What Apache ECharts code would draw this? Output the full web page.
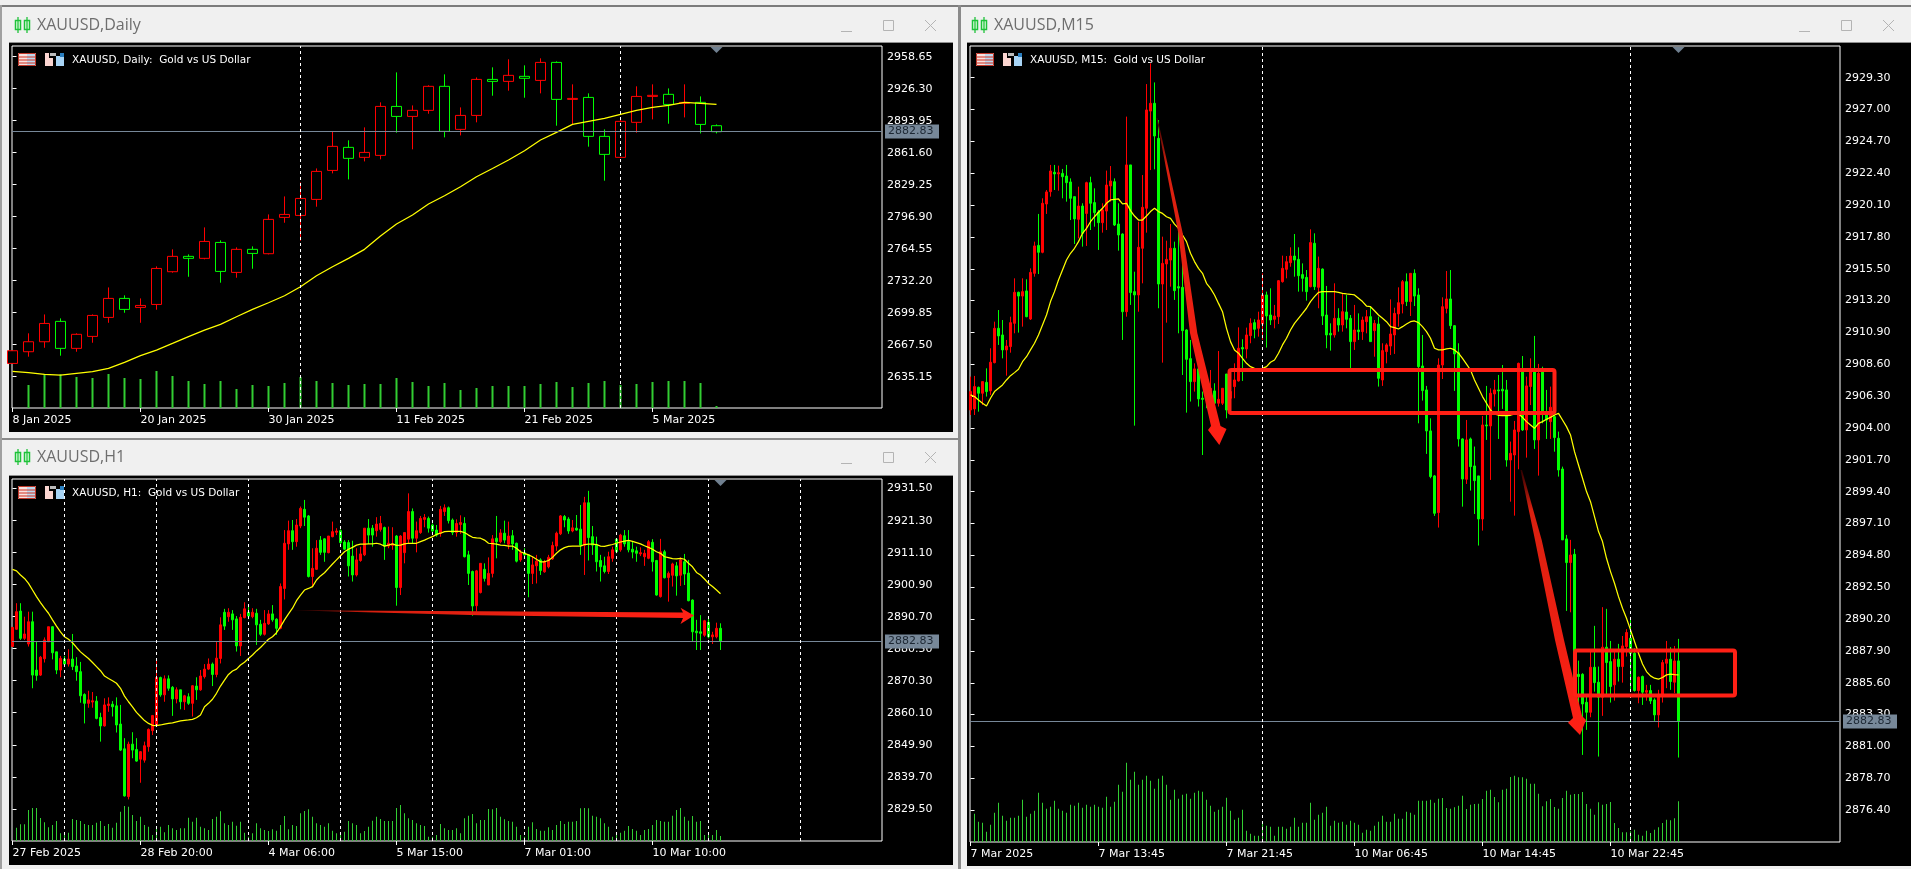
<!DOCTYPE html>
<html><head><meta charset="utf-8"><style>html,body{margin:0;padding:0;background:#f0f0f0}#c{width:1911px;height:869px}</style>
<script src="https://cdn.jsdelivr.net/npm/echarts@6/dist/echarts.min.js"></script></head><body><div id="c"></div>
<script>
// rows are [open, close, low, high]
const dailyCandles=[[2648.6,2661.4,2648.6,2661.4],[2660.4,2670.5,2655.4,2679],[2670.5,2689,2664.4,2698.1],[2691.1,2663.8,2656.4,2694.1],[2663.8,2678,2660.4,2679],[2675.9,2697.1,2669.5,2698.1],[2695.1,2714.3,2689.7,2725.4],[2714.3,2703.2,2699.8,2717.4],[2705.2,2707.2,2689.7,2714.3],[2708.2,2744.6,2702.9,2746.7],[2741.3,2756.8,2740.3,2763.9],[2756.8,2754.8,2736.2,2758.8],[2754.8,2771.9,2753.8,2786.1],[2770.9,2741.6,2730.2,2773],[2740.6,2763.9,2735.2,2765.9],[2763.9,2759.8,2744.3,2766.9],[2759.5,2794.2,2758.8,2799.2],[2796.2,2799.2,2790.8,2817.4],[2798.2,2815.4,2772.6,2831.6],[2814.4,2842.7,2807,2845.7],[2843.7,2868,2840.7,2883.2],[2867,2855.9,2834.6,2874.1],[2856.9,2861.9,2852.8,2887.2],[2858.9,2908.4,2854.9,2912.5],[2908.4,2898.3,2881.8,2942.8],[2898.3,2904.4,2865,2909.4],[2904.4,2928.7,2901,2929.7],[2928.7,2883.2,2877.1,2940.8],[2885.2,2899.3,2879.1,2907.4],[2899.3,2935.7,2892.3,2937.7],[2935.7,2933.7,2919.2,2947.9],[2933.7,2939.8,2924.3,2956],[2938.8,2936.8,2917.2,2949.9],[2934.7,2952.9,2921.6,2957],[2952.9,2915.5,2888.9,2953.9],[2915.5,2916.5,2890.2,2930.7],[2917.5,2878.1,2867.7,2921.6],[2878.1,2859.9,2833.3,2885.2],[2856.9,2893.3,2856.9,2896.3],[2892.3,2918.5,2881.8,2928.7],[2918.5,2919.6,2895.3,2930.7],[2920.6,2910.4,2890.9,2926.6],[2911.5,2912.5,2897.3,2930.7],[2912.5,2890.2,2881.1,2918.5],[2888.9,2882.83,2881.1,2890.2]];
const dailyMA=[2640.5,2639.2,2637.5,2636.8,2638.5,2640.2,2643.5,2649.6,2656.4,2662.1,2668.8,2675.6,2682.3,2688,2695.8,2703.2,2709.9,2717,2726.1,2737.2,2746.3,2754.8,2763.9,2777.3,2789.5,2798.6,2809.7,2818.1,2827.2,2837.3,2845.7,2854.2,2863.6,2874.4,2882.2,2890.2,2893.3,2896.3,2900.3,2904.4,2907.4,2909.4,2912.5,2911.5,2910.4];
const dailyVol=[0,69,99,101,93,90,102,90,87,111,96,81,72,81,57,69,66,75,93,81,75,69,72,72,90,78,66,75,54,60,66,66,66,72,78,63,75,81,69,72,78,81,81,75,6];
const dailyTicks=[0,8,16,24,32,40];
const dailyTickLabels=['8 Jan 2025','20 Jan 2025','30 Jan 2025','11 Feb 2025','21 Feb 2025','5 Mar 2025'];
const dailySeparators=[18,38];
const dailyPrices=[2958.65,2926.30,2893.95,2861.60,2829.25,2796.90,2764.55,2732.20,2699.85,2667.50,2635.15];

const h1Candles=[[2881.2,2887.3,2881.2,2887.3],[2886.7,2892.3,2886.5,2895],[2892.5,2883.8,2883.3,2895],[2883.8,2885.2,2883.3,2890.7],[2882,2889.1,2881.2,2892.3],[2889.1,2872.1,2867.9,2892.3],[2873.7,2872,2870.3,2882.7],[2872.1,2877.8,2871.8,2878.2],[2877.3,2883.3,2876.1,2884.1],[2882.7,2887.5,2882.7,2887.5],[2887.5,2879.2,2877.1,2887.7],[2879.5,2873.7,2872.4,2879.5],[2873.7,2877.4,2871.4,2878.2],[2877.2,2875.6,2874.8,2878.2],[2875.6,2877.2,2874.8,2880.3],[2877.2,2874.8,2873.7,2885.2],[2875,2873.2,2870.3,2877.8],[2873.2,2865.5,2863.3,2876.3],[2865.9,2863.1,2856.7,2866.3],[2863.1,2864.2,2861.7,2867.1],[2863.5,2863.9,2861.7,2866.7],[2863.8,2858.3,2858,2865.4],[2858.6,2855.9,2850.9,2860.1],[2855.9,2862.6,2855.7,2864.7],[2862.4,2862.9,2860.4,2865],[2862.8,2862,2858.9,2863.8],[2862.3,2856.2,2853.8,2865],[2856.5,2848.2,2847.9,2862.6],[2848.6,2833.6,2833.4,2852],[2833.4,2850.1,2832.5,2850.9],[2850.1,2848.2,2845.6,2853.9],[2848.4,2844.7,2844.5,2852],[2845.3,2847.7,2837.8,2847.9],[2845,2849.6,2844.2,2850.9],[2849.3,2854.8,2847.7,2855.1],[2854.4,2859.2,2853,2859.4],[2856.2,2871.3,2855.9,2876.9],[2871.3,2865.8,2865.2,2871.6],[2865.8,2870.9,2863.6,2872],[2870.9,2867.9,2867.1,2872],[2868.2,2864.5,2859.1,2868.6],[2864.5,2867.4,2863.1,2868.2],[2867.4,2863.6,2861.2,2867.4],[2863.6,2865.5,2861,2865.8],[2865.2,2863.1,2862.6,2866.3],[2863.1,2868.7,2858.9,2868.9],[2868.6,2867.4,2864.2,2871.4],[2867.4,2871.8,2867.1,2873.7],[2871.6,2874,2871,2875.6],[2874,2875.6,2873.7,2877.4],[2875.6,2872.3,2868.6,2876.1],[2872.3,2877.5,2871.4,2882.7],[2877.4,2888.1,2875.8,2890.5],[2892.1,2887.7,2886.5,2893.2],[2890.7,2892.1,2889.1,2893.4],[2891.6,2889.7,2886.5,2892.8],[2890,2881.4,2879.6,2890.9],[2881.4,2890.5,2878.2,2891.6],[2890.4,2893.2,2890.2,2895.3],[2892.1,2890.9,2889.9,2894.2],[2890.7,2892.1,2890.2,2893.4],[2891.8,2888.1,2881.7,2893.2],[2888.3,2885.1,2884.6,2889.7],[2885.1,2888.6,2884.7,2892.8],[2888.4,2891.6,2888.1,2892.8],[2891.6,2889.7,2889.1,2894.4],[2889.9,2887,2884.9,2890.2],[2887,2900.3,2886.7,2901.3],[2899.7,2914.1,2896.2,2918.3],[2913.9,2918.1,2912,2921.3],[2918.1,2914.6,2912,2921.5],[2914.6,2919.9,2913,2921.8],[2919.6,2925.2,2918.9,2925.8],[2924.9,2922.4,2919.6,2927.9],[2922.8,2903.5,2903.2,2923.1],[2903.5,2906.1,2900.1,2912.5],[2905.8,2912.5,2905.6,2915.1],[2915.1,2911.2,2910.4,2916.4],[2915.5,2911.2,2908.2,2915.7],[2911.1,2916.4,2910.9,2916.4],[2916.2,2917.8,2916,2921],[2917.6,2918,2916.7,2918.9],[2918.1,2914.3,2913.9,2918.5],[2914.5,2912.2,2912,2915.1],[2914.3,2906.9,2903.5,2915.1],[2910,2904,2901.9,2914.9],[2904,2908.8,2903.5,2912.5],[2908.6,2910.7,2908.2,2913],[2910.4,2918.9,2910,2918.9],[2918.9,2916.7,2913.9,2921.8],[2918.9,2916.7,2913,2919.9],[2918.1,2920.2,2916.2,2922.4],[2918.5,2920.4,2917.8,2922.8],[2919.1,2913.2,2908.8,2919.4],[2913.2,2914.1,2912.5,2919.4],[2913.4,2913.9,2912,2919.2],[2916.4,2900,2894.2,2916.7],[2900,2916.4,2897.6,2916.7],[2911.1,2917.5,2907.7,2917.5],[2915.4,2924.2,2914.1,2930],[2924.2,2915.7,2913.9,2925.2],[2915.7,2918.1,2911.2,2921],[2917.5,2922,2917.1,2922.8],[2921.7,2922.3,2919.2,2923.4],[2922,2918.9,2917.5,2922.6],[2919.9,2918,2917.1,2920.4],[2918.3,2916.7,2916.2,2919.9],[2917.3,2924.9,2916.2,2926],[2924.2,2925.4,2922.8,2926.5],[2925.4,2921.3,2920.4,2925.8],[2921.5,2917.5,2916.7,2922],[2917.5,2920.4,2916.2,2921.7],[2920.1,2920.7,2917.1,2923],[2920.4,2909.8,2909.6,2922.4],[2910.4,2904.5,2900.8,2911.7],[2905.1,2894.1,2891,2905.4],[2894.2,2905.3,2892.3,2905.6],[2898.4,2907.7,2898.1,2907.7],[2905.8,2902.9,2901.9,2907.7],[2900.8,2904.5,2900.8,2909.6],[2904.5,2915.5,2903.2,2916.7],[2915.7,2914.6,2909.3,2922.8],[2914.6,2917.4,2914.1,2918.6],[2917.3,2915.1,2914.1,2921.3],[2913.8,2916.4,2912.2,2921],[2916.5,2913.9,2912,2918.3],[2914.1,2908.4,2908,2914.3],[2908.8,2911.1,2908.2,2912],[2911.1,2910.4,2909.8,2912.5],[2910.4,2904.5,2896.9,2910.4],[2904.5,2907.2,2901.1,2909.8],[2906.9,2908.4,2901.3,2910.4],[2908.8,2905.4,2904,2909.3],[2905,2908.2,2904.7,2908.8],[2906.6,2909.6,2906.1,2910.4],[2909.1,2913.4,2908.8,2914.6],[2913.2,2917.3,2911.7,2917.8],[2917.1,2922.8,2916.7,2923.1],[2922.6,2921.5,2919.2,2923.1],[2921.8,2918,2917.1,2922.4],[2918,2919,2917.6,2921.5],[2918.9,2918.3,2918.1,2923.1],[2918.6,2913.5,2910.4,2926.3],[2913.5,2927,2904,2928.9],[2927,2915.9,2908.6,2930.8],[2916.2,2913.5,2910.4,2919.6],[2913.7,2908.2,2905.1,2916.2],[2908.6,2906.6,2901.9,2910.4],[2906.9,2905.1,2904.5,2909.8],[2905.1,2909.8,2904.3,2911.4],[2909.3,2912,2908.2,2913],[2915.4,2911.4,2910.9,2915.4],[2912,2916.7,2911.4,2917.1],[2916.5,2913.9,2913,2918.3],[2914.6,2912,2911.2,2918.3],[2912.2,2911.3,2909.3,2914.6],[2911.7,2910.9,2908.2,2913],[2910.7,2911.1,2910,2912.8],[2909.8,2910.9,2906.9,2912],[2909.3,2914.6,2909,2915.1],[2914.4,2908.2,2905.1,2915.4],[2908.6,2897.6,2897.4,2908.8],[2897.1,2911.4,2896.8,2915.5],[2911.4,2903.1,2902.9,2912],[2903.2,2904.5,2895.5,2905.1],[2903.9,2907.5,2900.3,2907.9],[2906.9,2903.7,2897.4,2908.1],[2903.9,2908.8,2900.5,2909.6],[2908.2,2904.3,2900.8,2910.7],[2904.6,2895.8,2895.6,2908.8],[2896,2885.9,2882.7,2896.2],[2886.1,2885.6,2880.1,2889.7],[2885.9,2885.4,2880.1,2891.2],[2884.8,2889.4,2884.3,2889.7],[2888.9,2884.3,2883.8,2890.5],[2884.3,2884.9,2882,2885.9],[2884.3,2887,2883.8,2888.8],[2887,2882.83,2880.1,2888.6]];
const h1MA=[2905.8,2905.3,2904,2902.9,2901.3,2899.2,2897.1,2895.2,2893.4,2891.8,2889.7,2887.7,2885.9,2884.3,2883.5,2882.4,2880.9,2879.5,2878.4,2877.4,2876.1,2874.8,2873.5,2871.8,2871,2870.3,2869.5,2867.9,2865.4,2863.6,2862,2860.2,2858.9,2857.6,2856.7,2856.1,2856,2856.2,2856.5,2856.7,2856.9,2857.2,2857.5,2857.7,2857.8,2858,2858.5,2859.4,2862,2863.1,2864.4,2866.3,2868.6,2870.5,2872.3,2873.4,2874,2875.3,2876.2,2877.4,2878.5,2879.8,2880.9,2882.2,2883.5,2884.3,2885.6,2887.5,2889.7,2891.6,2893.4,2895.8,2897.6,2899.2,2899.7,2900.3,2902.4,2903.7,2904.7,2906.1,2907.5,2908.8,2910.1,2911.4,2912.2,2912.8,2913.5,2913.8,2913.8,2913.9,2913.9,2914.1,2913.8,2913.2,2913.5,2913.9,2913.4,2913.5,2913.9,2914.1,2914.1,2914.1,2914.6,2915.1,2915.7,2916.2,2916.9,2917.3,2917.8,2917.9,2917.9,2917.9,2917.9,2917.5,2916.7,2916,2915.8,2915.7,2915.1,2914.1,2914,2913.8,2913.5,2913.4,2913.2,2913.2,2912.5,2911.4,2910.9,2910.4,2909.8,2909,2908.2,2908.2,2908.6,2909.6,2910.9,2912,2912.7,2913.1,2913.2,2913.2,2913.2,2913.7,2913.8,2913.8,2913.7,2913.2,2913.1,2913.4,2913.7,2914.1,2914.5,2914.8,2915,2914.7,2914.3,2913.9,2913.3,2912.8,2912.2,2911.4,2910.9,2909.8,2909.5,2909.2,2909.1,2909.3,2909,2907.7,2906.6,2904.8,2904,2902.7,2901.3,2900.3,2899.2,2898];
const h1Vol=[0,40,50,50,93,99,99,69,56,41,48,60,23,18,25,66,63,60,51,48,48,55,60,45,51,40,55,88,105,103,78,60,73,48,43,18,40,43,26,48,38,33,38,38,70,58,70,43,38,33,66,73,89,53,48,58,46,58,25,13,23,53,38,33,30,35,31,48,75,35,48,45,83,90,95,73,53,48,43,53,31,23,23,28,60,53,48,23,30,43,61,73,66,60,60,60,99,108,83,68,63,53,48,45,13,13,18,51,38,33,33,38,23,68,76,81,53,63,63,96,95,99,73,65,60,58,43,18,13,43,56,36,31,31,41,33,48,60,51,58,58,60,98,99,98,76,73,68,53,43,13,23,25,31,45,36,31,18,33,36,48,63,60,58,58,76,93,99,73,61,75,58,60,18,21,18,33,15];
const h1Ticks=[0,32,64,96,128,160];
const h1TickLabels=['27 Feb 2025','28 Feb 20:00','4 Mar 06:00','5 Mar 15:00','7 Mar 01:00','10 Mar 10:00'];
const h1Separators=[13,36,59,82,105,128,151,174,197];
const h1Prices=[2931.50,2921.30,2911.10,2900.90,2890.70,2880.50,2870.30,2860.10,2849.90,2839.70,2829.50];

const m15Candles=[[2905.30,2906.63,2904.94,2907.71],[2905.38,2906.99,2904.94,2907.76],[2906.94,2906.51,2905.18,2906.99],[2906.51,2907.35,2905.66,2907.35],[2907.30,2906.63,2906.27,2908.31],[2906.68,2908.75,2906.39,2909.76],[2908.72,2911.20,2908.67,2911.68],[2911.20,2910.65,2910.0,2912.52],[2910.72,2909.64,2909.03,2911.80],[2909.64,2909.92,2907.78,2910.36],[2909.88,2911.61,2909.44,2912.04],[2911.56,2913.80,2910.84,2914.81],[2913.80,2913.53,2910.89,2913.85],[2913.53,2913.85,2911.32,2914.81],[2913.90,2912.04,2912.0,2914.74],[2911.87,2915.24,2911.80,2915.53],[2915.17,2917.15,2914.93,2917.46],[2917.19,2916.69,2915.12,2919.46],[2916.69,2920.23,2916.62,2920.59],[2920.18,2921.05,2919.46,2921.19],[2921.07,2922.56,2920.71,2923.0],[2922.47,2922.35,2921.19,2923.0],[2922.35,2922.44,2921.14,2922.95],[2922.39,2922.15,2920.59,2922.71],[2922.20,2921.72,2920.35,2923.0],[2921.77,2920.59,2919.02,2922.03],[2920.71,2919.10,2917.29,2920.71],[2919.07,2920.03,2917.70,2921.43],[2920.03,2918.06,2917.10,2920.23],[2919.50,2921.72,2917.15,2921.79],[2921.72,2920.23,2918.30,2922.15],[2920.28,2919.55,2918.54,2921.31],[2919.60,2918.83,2916.86,2919.75],[2918.83,2919.75,2918.11,2920.23],[2919.67,2921.55,2918.30,2922.59],[2921.48,2921.84,2920.35,2922.92],[2921.79,2918.66,2918.59,2922.03],[2918.73,2917.94,2916.81,2920.23],[2918.01,2912.40,2910.36,2918.06],[2912.40,2923.0,2912.04,2926.49],[2923.0,2913.78,2912.89,2923.0],[2913.85,2913.61,2904.17,2915.29],[2913.61,2917.05,2912.40,2918.90],[2916.98,2919.94,2914.45,2922.27],[2919.87,2926.97,2918.11,2928.84],[2926.89,2927.45,2922.63,2930.34],[2927.45,2925.09,2922.68,2928.96],[2924.92,2914.40,2912.65,2926.24],[2914.40,2915.89,2908.72,2917.82],[2915.85,2916.18,2911.61,2917.53],[2916.13,2916.98,2914.21,2918.73],[2916.98,2913.92,2913.25,2917.46],[2914.21,2914.11,2910.84,2919.26],[2914.16,2911.03,2907.83,2917.46],[2911.08,2908.96,2905.11,2911.13],[2909.01,2907.35,2905.91,2910.36],[2907.35,2908.27,2906.63,2908.67],[2908.27,2906.10,2905.55,2908.79],[2906.15,2906.07,2902.05,2906.63],[2906.27,2906.07,2905.43,2907.47],[2906.03,2906.87,2904.82,2908.19],[2906.68,2905.79,2904.82,2907.23],[2905.79,2906.07,2905.55,2909.56],[2905.79,2906.87,2905.66,2906.87],[2907.90,2905.30,2904.70,2907.90],[2906.15,2906.63,2904.94,2907.23],[2906.99,2907.47,2906.15,2908.67],[2907.40,2909.76,2907.35,2911.27],[2909.81,2909.71,2907.40,2910.41],[2909.71,2910.72,2909.03,2911.25],[2910.67,2911.56,2910.12,2911.92],[2911.61,2911.13,2910.48,2911.85],[2911.20,2911.80,2910.60,2912.40],[2911.51,2913.61,2910.36,2915.17],[2913.61,2912.09,2909.81,2913.85],[2912.16,2911.80,2911.44,2914.09],[2911.85,2912.09,2911.20,2912.89],[2912.04,2914.64,2911.51,2914.69],[2914.57,2915.53,2914.50,2916.45],[2915.46,2916.01,2914.81,2916.42],[2915.94,2916.42,2915.65,2917.05],[2916.42,2916.13,2914.93,2918.01],[2916.18,2915.0,2913.85,2917.05],[2915.08,2914.81,2913.85,2915.89],[2914.88,2913.85,2913.20,2915.41],[2914.21,2917.39,2914.16,2918.35],[2917.34,2914.21,2913.97,2918.06],[2914.16,2915.53,2912.65,2916.38],[2915.48,2912.09,2911.44,2915.53],[2912.16,2910.72,2909.76,2914.26],[2910.84,2910.72,2909.59,2911.56],[2910.72,2911.92,2910.53,2914.45],[2911.92,2911.44,2910.96,2912.65],[2911.44,2912.40,2910.96,2913.73],[2912.38,2911.85,2911.20,2913.61],[2911.92,2910.24,2908.19,2912.16],[2910.24,2911.08,2909.64,2912.89],[2911.08,2910.96,2910.36,2912.28],[2910.96,2911.80,2910.36,2912.04],[2911.68,2912.04,2910.84,2912.52],[2912.04,2910.24,2910.24,2912.76],[2911.03,2911.56,2909.15,2911.80],[2911.51,2907.59,2906.99,2912.04],[2907.47,2909.59,2907.04,2910.12],[2909.52,2910.0,2908.67,2910.12],[2909.92,2910.79,2909.27,2913.29],[2910.72,2912.28,2909.35,2912.69],[2912.24,2913.05,2911.32,2914.16],[2912.96,2914.57,2912.28,2914.69],[2914.57,2913.13,2912.81,2915.17],[2913.13,2915.17,2912.09,2915.17],[2915.17,2913.53,2912.81,2915.46],[2913.61,2908.43,2904.34,2914.09],[2908.48,2906.70,2905.98,2910.72],[2906.75,2903.79,2902.13,2907.04],[2903.79,2900.49,2900.37,2904.70],[2900.54,2897.84,2897.65,2900.61],[2897.89,2908.55,2896.81,2909.03],[2908.55,2912.76,2907.54,2913.44],[2912.64,2913.32,2912.28,2915.34],[2913.32,2911.39,2911.15,2915.41],[2911.39,2909.35,2906.68,2911.44],[2909.44,2903.21,2902.66,2910.12],[2903.21,2900.32,2898.32,2903.26],[2900.30,2903.14,2899.96,2904.58],[2903.21,2901.21,2899.48,2903.31],[2901.26,2900.20,2897.79,2902.66],[2900.54,2897.43,2895.51,2900.54],[2897.43,2904.22,2896.59,2904.87],[2904.22,2904.15,2903.14,2907.04],[2904.15,2906.51,2900.25,2906.87],[2906.46,2906.75,2905.55,2907.47],[2906.75,2906.68,2903.21,2907.83],[2906.80,2906.68,2905.38,2908.55],[2906.75,2901.69,2901.21,2907.47],[2901.69,2902.17,2898.68,2903.02],[2902.05,2903.86,2897.67,2904.51],[2903.74,2908.67,2901.02,2908.72],[2908.07,2903.86,2903.79,2909.20],[2903.86,2907.04,2901.86,2907.71],[2907.0,2908.07,2905.66,2909.03],[2908.19,2903.14,2902.49,2910.65],[2903.14,2907.95,2900.56,2908.63],[2908.07,2905.18,2904.34,2908.43],[2905.06,2904.58,2903.21,2906.75],[2904.46,2905.50,2903.21,2906.99],[2904.82,2903.31,2902.29,2905.06],[2903.26,2900.97,2900.49,2903.74],[2901.04,2895.92,2895.92,2901.21],[2895.99,2894.28,2890.79,2896.28],[2894.28,2894.83,2890.69,2895.92],[2894.88,2886.17,2886.17,2895.27],[2886.21,2886.05,2882.80,2887.20],[2886.21,2884.07,2880.39,2886.29],[2884.19,2883.47,2882.20,2884.60],[2883.47,2886.72,2883.11,2887.85],[2886.72,2885.61,2884.96,2889.71],[2885.64,2884.56,2880.27,2886.77],[2884.56,2888.17,2883.21,2891.06],[2888.17,2887.06,2884.60,2890.94],[2887.13,2885.33,2884.17,2888.62],[2885.45,2887.30,2884.31,2887.85],[2887.30,2886.77,2885.69,2888.41],[2886.77,2888.26,2885.61,2888.98],[2888.21,2889.23,2887.49,2889.47],[2888.82,2887.73,2885.04,2890.26],[2887.73,2885.04,2884.96,2888.09],[2885.04,2886.0,2884.12,2886.05],[2886.05,2884.92,2884.0,2886.12],[2884.92,2885.04,2884.31,2885.45],[2885.04,2884.29,2884.07,2885.45],[2884.36,2883.28,2882.85,2884.48],[2883.28,2884.72,2882.37,2885.09],[2884.65,2887.06,2884.17,2887.25],[2887.01,2887.30,2885.21,2888.62],[2887.30,2885.69,2885.09,2888.17],[2885.64,2887.18,2884.85,2888.26],[2887.18,2882.83,2880.20,2888.77]];
const m15MA=[2906.39,2906.27,2906.03,2905.79,2905.59,2906.15,2906.63,2906.87,2907.11,2907.47,2907.78,2908.0,2908.24,2908.79,2909.15,2909.64,2910.12,2910.72,2911.44,2912.16,2913.13,2913.85,2914.69,2915.41,2916.13,2916.62,2916.98,2917.46,2918.06,2918.42,2918.90,2919.26,2919.58,2919.87,2920.23,2920.47,2920.52,2920.54,2920.18,2920.23,2919.70,2919.31,2919.02,2919.02,2919.31,2919.63,2919.87,2919.63,2919.5,2919.26,2919.14,2918.73,2918.42,2917.94,2917.46,2916.62,2916.02,2915.53,2915.17,2914.45,2914.09,2913.61,2913.0,2912.40,2911.20,2910.24,2909.64,2909.40,2909.03,2908.67,2908.43,2908.31,2908.27,2908.31,2908.43,2908.75,2908.91,2909.40,2910.0,2910.48,2911.08,2911.56,2911.92,2912.28,2912.65,2913.13,2913.49,2913.80,2913.85,2913.85,2913.85,2913.85,2913.80,2913.73,2913.68,2913.66,2913.61,2913.37,2913.13,2912.81,2912.76,2912.47,2912.16,2911.92,2911.68,2911.32,2911.25,2911.15,2911.32,2911.51,2911.68,2911.73,2911.61,2911.32,2910.96,2910.48,2909.76,2909.64,2909.64,2909.71,2909.76,2909.64,2909.40,2909.03,2908.62,2908.19,2907.47,2906.87,2906.27,2905.79,2905.30,2905.01,2904.92,2904.89,2904.89,2904.92,2905.01,2905.01,2904.77,2904.46,2904.22,2903.98,2904.34,2904.46,2904.63,2904.77,2904.94,2905.06,2904.58,2904.10,2903.50,2902.29,2901.33,2900.37,2899.41,2898.68,2897.60,2896.52,2895.80,2894.59,2893.63,2892.79,2891.82,2890.98,2890.26,2889.42,2888.58,2887.73,2886.96,2886.41,2886.10,2885.93,2885.86,2885.98,2886.17,2886.22,2886.19,2886.17];
const m15Vol=[0,85,61,58,31,52,88,118,79,64,73,73,79,127,76,85,94,148,118,100,106,124,100,94,88,112,109,118,103,112,106,112,106,103,136,106,121,172,151,238,187,211,172,187,199,184,160,190,199,172,127,157,130,142,145,130,148,154,151,127,109,91,97,106,133,94,67,73,97,34,25,19,19,58,49,46,19,46,46,40,46,73,46,58,58,118,67,82,88,106,49,64,58,61,52,64,58,52,28,37,34,49,61,79,61,61,85,70,70,91,88,82,124,124,124,127,118,130,132,102,100,104,109,139,99,112,114,115,129,154,157,135,119,157,160,195,199,194,194,190,175,175,145,107,122,129,105,100,132,154,142,144,144,150,114,100,82,119,112,114,120,57,42,29,29,32,37,22,19,34,27,37,44,57,67,65,71,122];
const m15Ticks=[0,32,64,96,128,160];
const m15TickLabels=['7 Mar 2025','7 Mar 13:45','7 Mar 21:45','10 Mar 06:45','10 Mar 14:45','10 Mar 22:45'];
const m15Separators=[73,165];
const m15Prices=[2929.30,2927.00,2924.70,2922.40,2920.10,2917.80,2915.50,2913.20,2910.90,2908.60,2906.30,2904.00,2901.70,2899.40,2897.10,2894.80,2892.50,2890.20,2887.90,2885.60,2883.30,2881.00,2878.70,2876.40];
const lastPrice=2882.83;

const FONT='"DejaVu Sans"', UP='#ff0000', DOWN='#00ff00', ARROW='#ff2015';
const panels=[
 {name:'XAUUSD,Daily',info:'XAUUSD, Daily:  Gold vs US Dollar',candles:dailyCandles,ma:dailyMA,vol:dailyVol,ticks:dailyTicks,tickLabels:dailyTickLabels,seps:dailySeparators,prices:dailyPrices,
  left:12,top:46,width:870,height:362,pitch:16,yMin:2603.52,yMax:2969.47,bw:11,vw:2,hollow:true},
 {name:'XAUUSD,H1',info:'XAUUSD, H1:  Gold vs US Dollar',candles:h1Candles,ma:h1MA,vol:h1Vol,ticks:h1Ticks,tickLabels:h1TickLabels,seps:h1Separators,prices:h1Prices,
  left:12,top:479,width:870,height:362,pitch:4,yMin:2819.24,yMax:2934.57,bw:3,vw:1,hollow:false},
 {name:'XAUUSD,M15',info:'XAUUSD, M15:  Gold vs US Dollar',candles:m15Candles,ma:m15MA,vol:m15Vol,ticks:m15Ticks,tickLabels:m15TickLabels,seps:m15Separators,prices:m15Prices,
  left:970,top:46,width:870,height:796,pitch:4,yMin:2874.1,yMax:2931.59,bw:3,vw:1,hollow:false}
];
const grid=[],xAxis=[],yAxis=[],series=[];
panels.forEach((p,k)=>{
 grid.push({left:p.left,top:p.top,width:p.width,height:p.height,show:true,backgroundColor:'#000',borderColor:'#fff',borderWidth:1});
 const lab={color:'#fff',fontFamily:FONT,fontSize:11};
 xAxis.push({type:'value',gridIndex:k,min:-0.5/p.pitch,max:(p.width-0.5)/p.pitch,splitLine:{show:false},axisLine:{show:false},
  axisTick:{show:true,customValues:p.ticks,length:4,inside:false,lineStyle:{color:'#fff'}},
  axisLabel:{...lab,customValues:p.ticks,align:'left',margin:7,hideOverlap:false,formatter:v=>p.tickLabels[p.ticks.indexOf(v)]||''}});
 yAxis.push({type:'value',gridIndex:k,position:'right',min:p.yMin,max:p.yMax,splitLine:{show:false},axisLine:{show:false},
  axisTick:{show:true,customValues:p.prices,length:4,lineStyle:{color:'#fff'}},
  axisLabel:{...lab,customValues:p.prices,margin:5,hideOverlap:false,formatter:v=>v.toFixed(2)}});
 yAxis.push({type:'value',gridIndex:k,show:false,min:0,max:p.height*3});
 series.push({type:'bar',xAxisIndex:k,yAxisIndex:2*k+1,barWidth:p.vw,silent:true,z:1,itemStyle:{color:'#32cd32'},data:p.vol.map((v,i)=>[i,v])});
 series.push({type:'candlestick',xAxisIndex:k,yAxisIndex:2*k,barWidth:p.bw,silent:true,z:2,
  itemStyle:{color:p.hollow?'#000':UP,color0:p.hollow?'#000':DOWN,borderColor:UP,borderColor0:DOWN,borderColorDoji:UP,borderWidth:1},
  data:p.candles.map((r,i)=>[i,r[0],r[1],r[2],r[3]]),
  markLine:{silent:true,symbol:'none',animation:false,label:{show:false},lineStyle:{color:'#fff',type:[3,3],width:1},
   data:[{yAxis:lastPrice,lineStyle:{color:'#778899',type:'solid',width:1}}].concat(p.seps.map(s=>({xAxis:s})))}});
 series.push({type:'line',xAxisIndex:k,yAxisIndex:2*k,silent:true,z:3,showSymbol:false,symbol:'none',smooth:false,lineStyle:{color:'#ffff00',width:1.25},data:p.ma.map((v,i)=>[i,v])});
});

// window chrome and hand-drawn annotations
const g=[];
const rect=(x,y,w,h,fill,z)=>g.push({type:'rect',z:z===undefined?-10:z,silent:true,shape:{x,y,width:w,height:h},style:{fill}});
const txt=(x,y,text,font,fill,z)=>g.push({type:'text',z:z===undefined?20:z,silent:true,style:{x,y,text,font,fill,textVerticalAlign:'middle'}});
rect(0,5,1911,2,'#7c7c7c');
rect(0,5,2,864,'#a0a0a0'); rect(958,5,3,864,'#8a8a8a');
rect(2,438,956,2,'#8a8a8a');
function win(p,x0,x1,y0,y1,titleY,bx,cx){
 rect(x0,y0-1,x1-x0,1,'#8f8f8f');
 rect(x0,y0,x1-x0,y1-y0,'#000');
 const ix=bx-.5, iy=titleY-8;
 [[0,'#1fc23a'],[9,'#1fc23a']].forEach(([dx,c])=>{
  g.push({type:'rect',z:20,silent:true,shape:{x:ix+dx,y:iy+3.5,width:5,height:9},style:{fill:'#e8ffe8',stroke:c,lineWidth:1.5}});
  g.push({type:'line',z:20,silent:true,shape:{x1:ix+dx+2.5,y1:iy,x2:ix+dx+2.5,y2:iy+16},style:{stroke:c,lineWidth:1.3}});
 });
 txt(bx+21,titleY,p.name,'16px "Open Sans"','#6e6e6e');
 const c='#b4b4b4';
 g.push({type:'line',z:20,silent:true,shape:{x1:cx,y1:titleY+6.5,x2:cx+11,y2:titleY+6.5},style:{stroke:c,lineWidth:1}});
 g.push({type:'rect',z:20,silent:true,shape:{x:cx+42.5,y:titleY-4.5,width:10,height:10},style:{fill:'none',stroke:c,lineWidth:1}});
 g.push({type:'line',z:20,silent:true,shape:{x1:cx+84,y1:titleY-5,x2:cx+95,y2:titleY+6},style:{stroke:c,lineWidth:1}});
 g.push({type:'line',z:20,silent:true,shape:{x1:cx+95,y1:titleY-5,x2:cx+84,y2:titleY+6},style:{stroke:c,lineWidth:1}});
 const ty=p.top, lx=p.left;
 rect(lx+6,ty+7,18,13,'#f7e2e0',20);
 g.push({type:'rect',z:21,silent:true,shape:{x:lx+6.5,y:ty+7.5,width:17,height:12},style:{fill:'none',stroke:'#c0392b',lineWidth:1}});
 rect(lx+15,ty+8,8,11,'#bcd8ee',21);
 [10.5,13.5,16.5].forEach(d=>rect(lx+7,ty+d,16,1,'#d03020',22));
 rect(lx+33,ty+12,8,8,'#fbd5d0',20); rect(lx+33,ty+7,4,6,'#fbd5d0',20);
 rect(lx+44,ty+10,8,10,'#a8d4f5',20); rect(lx+48,ty+7,4,4,'#2a7fc0',20);
 rect(lx+38,ty+7,6,3,'#bbb',20);
 txt(lx+60,ty+14.5,p.info,'10.5px "DejaVu Sans"','#fff');
}
win(panels[0],9,953,43,432,25,16,841);
win(panels[1],9,953,476,865,457,16,841);
win(panels[2],967,1911,43,866,25,973,1799);

function tri(cx,y){g.push({type:'polygon',z:20,silent:true,shape:{points:[[cx-6,y],[cx+6,y],[cx,y+6]]},style:{fill:'#708090'}});}
tri(716.5,47);tri(720.5,480);tri(1678.5,47);

function priceTag(x,y){
 rect(x,y-7,54,14,'#778899',30);
 txt(x+3,y,lastPrice.toFixed(2),'11px "DejaVu Sans"','#1c2733',31);
}
priceTag(885,131.5);priceTag(885,641.5);priceTag(1843,721.5);

function arrow(pts,grad){g.push({type:'polygon',z:40,silent:true,shape:{points:pts},style:{fill:grad}});}
const fade=(x,y,x2,y2,mid)=>({type:'linear',x,y,x2,y2,global:true,colorStops:[{offset:0,color:'#300000'},{offset:mid,color:'#d8200f'},{offset:1,color:ARROW}]});
arrow([[290,610.3],[480,615.3],[683,618],[680.5,624],[694,615.5],[680.5,607.7],[683,612.5],[480,611.3]],fade(290,610,694,615,.2));
arrow([[1156.5,118],[1157.5,118],[1182.7,233],[1197.3,333],[1214,400],[1220.5,426],[1226.5,429],[1219.3,445],[1208,430],[1211,426],[1205,400],[1190,333],[1178.3,233]],fade(1156.7,118,1219,445,.15));
arrow([[1520.5,470],[1522,470],[1541.7,540],[1564,640],[1582,716],[1586,720],[1580,735],[1568,722.7],[1573,718],[1555,640],[1535,540]],fade(1521,470,1580,735,.15));
function box(x,y,w,h){g.push({type:'rect',z:40,silent:true,shape:{x,y,width:w,height:h,r:2},style:{fill:'none',stroke:ARROW,lineWidth:4}});}
box(1229.5,370,325,43);box(1575,650.5,160,45);

echarts.init(document.getElementById('c'),null,{renderer:'canvas'}).setOption({
 backgroundColor:'#f0f0f0',animation:false,tooltip:{show:false},grid,xAxis,yAxis,series,graphic:{elements:g}
});
</script></body></html>
